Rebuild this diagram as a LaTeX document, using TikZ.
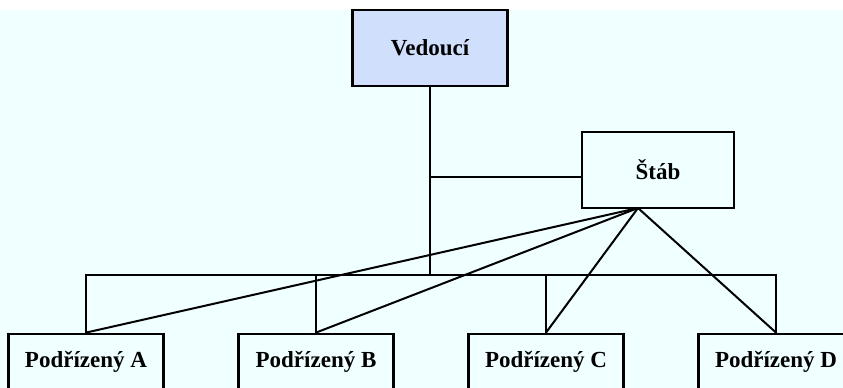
\documentclass[tikz,border=0pt]{standalone}
\usepackage{fontspec}
\setmainfont{Liberation Serif}
\usepackage{tikz}
\usetikzlibrary{positioning}
\definecolor{paneazure}{RGB}{240,255,255}
\definecolor{headblue}{RGB}{208,224,252}

\begin{document}
\begin{tikzpicture}[x=1pt,y=-1pt,node distance=230pt,line width=2pt,
  unit node/.style={rectangle,draw,line width=2.8pt,fill=paneazure,minimum width=155pt,
    inner sep=0pt,font=\fontsize{23}{26}\selectfont\bfseries},
  head node/.style={unit node,fill=headblue,minimum height=76pt},
  sub node/.style={unit node,minimum height=56pt}]

  \useasboundingbox (0,0) rectangle (843,388);
  \fill[white] (0,0) rectangle (843,388);
  \fill[paneazure] (0,10) rectangle (843,388);
  \clip (0,0) rectangle (843,388);

  \node[head node] (ved) at (430,48) {Vedoucí};
  \node[unit node,minimum height=76pt,minimum width=152pt] (stab) at (658,170) {Štáb};
  \node[sub node] (a) at (86,362) {Podřízený A};
  \node[sub node] (b) [right of=a] {Podřízený B};
  \node[sub node] (c) [right of=b] {Podřízený C};
  \node[sub node] (d) [right of=c] {Podřízený D};

  \coordinate (bus) at (0,275);
  \coordinate (fan) at (638,208);

  % line of command
  \draw (ved.south) -- (ved.south |- bus);
  \draw (a.north) |- (d.north |- bus) -- (d.north);
  \draw[line width=1.2pt] (b.north) -- (b.north |- bus);
  \draw (c.north) -- (c.north |- bus);
  \draw (stab.-175) -- (stab.-175 -| ved.south);

  % staff links
  \path (fan) edge (a.north) edge (b.north) edge (c.north) edge (d.north);

\end{tikzpicture}
\end{document}
